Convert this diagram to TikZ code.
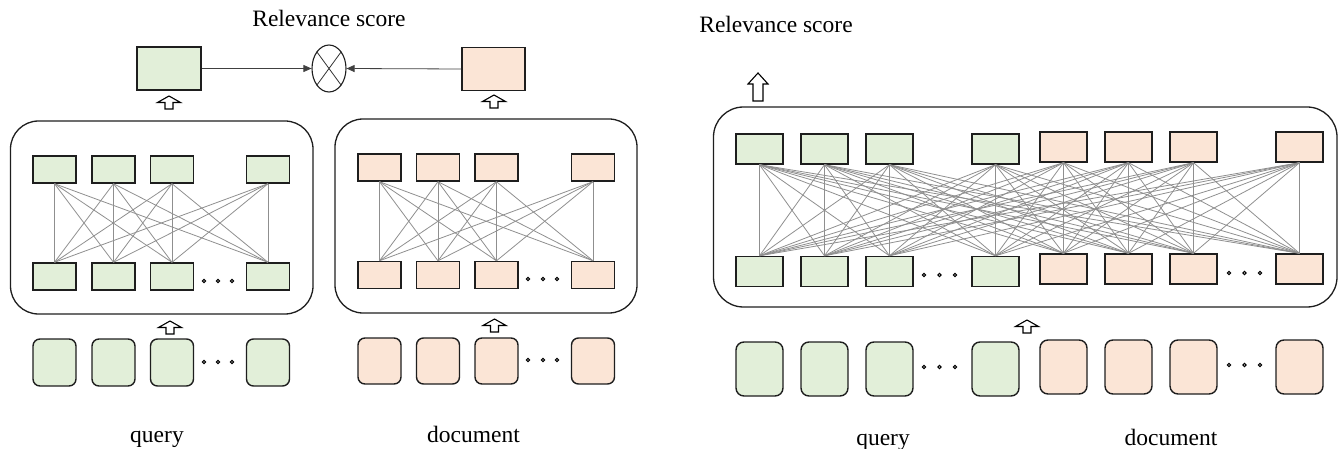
\documentclass[tikz,border=0pt]{standalone}
\usepackage{fontspec}
\setmainfont{Liberation Serif}
\usetikzlibrary{arrows.meta,shapes.geometric}
\definecolor{qgreen}{HTML}{E2EFD9}
\definecolor{dpeach}{HTML}{FBE5D6}
\definecolor{edgegray}{HTML}{8F8F8F}
\definecolor{boxline}{HTML}{1E1E1E}
\begin{document}
\begin{tikzpicture}[x=1pt,y=-1pt,
  cell/.style={rectangle,draw=boxline,line width=1.4pt,inner sep=0pt},
  qcellL/.style={cell,fill=qgreen,minimum width=43pt,minimum height=27pt},
  dcellL/.style={cell,fill=dpeach,minimum width=43pt,minimum height=27pt},
  qinL/.style={qcellL,rounded corners=7pt,minimum height=47pt},
  dinL/.style={dcellL,rounded corners=7pt,minimum height=46pt},
  qcellR/.style={cell,fill=qgreen,minimum width=47pt,minimum height=30pt},
  dcellR/.style={cell,fill=dpeach,minimum width=47pt,minimum height=30pt},
  qinR/.style={qcellR,rounded corners=8pt,minimum height=54pt},
  dinR/.style={dcellR,rounded corners=8pt,minimum height=54pt},
  panel/.style={draw=boxline,line width=1.3pt,rounded corners=28pt},
  link/.style={draw=edgegray,line width=0.8pt},
  ptr/.style={draw=black!75,line width=0.8pt,-{Triangle[length=8pt,width=7pt]}},
  lbl/.style={font=\fontsize{23.5}{28}\selectfont,inner sep=0pt,anchor=base},
  dotc/.style={draw=black,line width=1.1pt,fill=white},
  blk/.style={draw=black,line width=1.1pt,fill=white,line join=miter},
  smallup/.pic={\path[blk] (-4,0) -- (-4,-6.5) -- (-11.5,-6.5) -- (0,-13) -- (11.5,-6.5) -- (4,-6.5) -- (4,0) -- cycle;},
  tallup/.pic={\path[blk] (-5,0) -- (-5,-17) -- (-10,-17) -- (0,-28) -- (10,-17) -- (5,-17) -- (5,0) -- cycle;}
]
\useasboundingbox (0,0) rectangle (1339,449);

% ---------------- Left: two towers ----------------
\node[lbl] (rsL) at (329,27) {Relevance score};
\node[cell,fill=qgreen,minimum width=64pt,minimum height=43pt] (gtop) at (169,68.5) {};
\node[cell,fill=dpeach,minimum width=63pt,minimum height=43pt] (ptop) at (493.5,69) {};
\node[ellipse,draw=boxline,line width=1.1pt,minimum width=34pt,minimum height=47pt,inner sep=0pt] (ell) at (329,68.5) {};
\draw[black!80,line width=0.8pt] (ell.north west) -- (ell.south east) (ell.north east) -- (ell.south west);
\draw[ptr] (gtop.east) -- (ell.west);
\draw[ptr] (ptop.west) -- (ell.east);
\pic at (169,109) {smallup};
\pic at (494,108) {smallup};

\draw[panel] (10.5,121) rectangle (313,314);
\draw[panel] (335,119) rectangle (637,313);

\foreach \i/\x in {1/54.5,2/113.5,3/172,4/268}{
  \node[qcellL] (qt\i) at (\x,169.5) {};
  \node[qcellL] (qb\i) at (\x,276.5) {};
  \node[qinL]   (qi\i) at (\x,362.5) {};
}
\foreach \i/\x in {1/379.5,2/438,3/496.5,4/593}{
  \node[dcellL] (dt\i) at (\x,167.5) {};
  \node[dcellL] (db\i) at (\x,275) {};
  \node[dinL]   (di\i) at (\x,361) {};
}
\foreach \i in {1,...,4}{\foreach \j in {1,...,4}{
  \draw[link] (qt\i.south) -- (qb\j.north);
  \draw[link] (dt\i.south) -- (db\j.north);
}}
\foreach \x in {204,218,232}{
  \draw[dotc] (\x,281) circle (1.6);
  \draw[dotc] (\x,362) circle (1.6);
}
\foreach \x in {528,543,557}{
  \draw[dotc] (\x,279) circle (1.6);
  \draw[dotc] (\x,360) circle (1.6);
}
\pic at (170,334) {smallup};
\pic at (494.5,332) {smallup};
\node[lbl] (qL) at (157,442) {query};
\node[lbl] (dL) at (473.5,442) {document};

% ---------------- Right: joint encoder ----------------
\node[lbl] (rsR) at (776,33) {Relevance score};
\pic at (758,101) {tallup};
\draw[panel,rounded corners=30pt] (713.5,107) rectangle (1337,307);

\foreach \i/\x in {1/759.5,2/824.5,3/889.5,4/995.5}{
  \node[qcellR] (Rt\i) at (\x,149) {};
  \node[qcellR] (Rb\i) at (\x,271.5) {};
  \node[qinR]   (Ri\i) at (\x,369) {};
}
\foreach \i/\x in {5/1063.5,6/1128.5,7/1193.5,8/1299.5}{
  \node[dcellR] (Rt\i) at (\x,147) {};
  \node[dcellR] (Rb\i) at (\x,269) {};
  \node[dinR]   (Ri\i) at (\x,367) {};
}
\foreach \i in {1,...,8}{\foreach \j in {1,...,8}{
  \draw[link] (Rt\i.south) -- (Rb\j.north);
}}
\foreach \x in {924,939.5,955}{
  \draw[dotc] (\x,275) circle (1.6);
  \draw[dotc] (\x,367) circle (1.6);
}
\foreach \x in {1229,1244.5,1260}{
  \draw[dotc] (\x,273) circle (1.6);
  \draw[dotc] (\x,365) circle (1.6);
}
\pic at (1027,333) {smallup};
\node[lbl] (qR) at (883,445) {query};
\node[lbl] (dR) at (1171,445) {document};
\end{tikzpicture}
\end{document}
